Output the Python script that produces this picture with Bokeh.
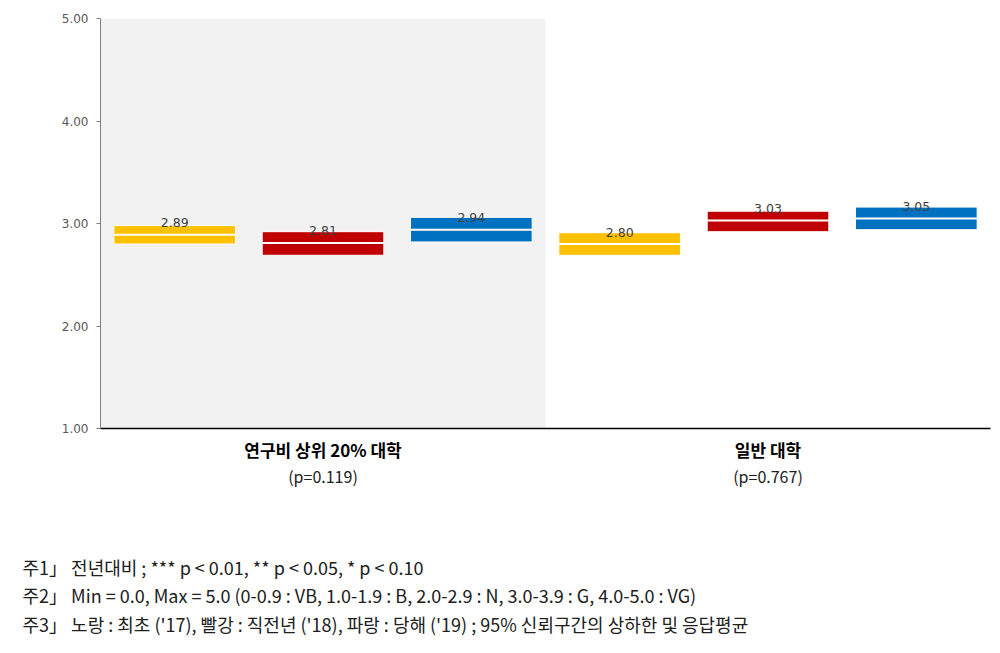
from bokeh.plotting import figure
from bokeh.models import Range1d, FixedTicker, NumeralTickFormatter, LinearAxis, Title, ColumnDataSource
from bokeh.embed import file_html
from bokeh.resources import INLINE
from bokeh.core.properties import value

groups = ["연구비 상위 20% 대학", "일반 대학"]
pvalues = ["(p=0.119)", "(p=0.767)"]
series = ["최초 ('17)", "직전년 ('18)", "당해 ('19)"]
colors = ["#FFC000", "#C00000", "#0070C0"]
means = [[2.89, 2.81, 2.94], [2.80, 3.03, 3.05]]
lower = [[2.80, 2.69, 2.82], [2.69, 2.92, 2.94]]
upper = [[2.98, 2.92, 3.06], [2.91, 3.12, 3.16]]
yticks = [1, 2, 3, 4, 5]
notes = [
    "주1」 전년대비 ; *** p < 0.01, ** p < 0.05, * p < 0.10",
    "주2」 Min = 0.0, Max = 5.0 (0-0.9 : VB, 1.0-1.9 : B, 2.0-2.9 : N, 3.0-3.9 : G, 4.0-5.0 : VG)",
    "주3」 노랑 : 최초 ('17), 빨강 : 직전년 ('18), 파랑 : 당해 ('19) ; 95% 신뢰구간의 상하한 및 응답평균",
]

nser = len(series)
xs, lo, hi, mu, col, lab = [], [], [], [], [], []
for gi in range(len(groups)):
    for si in range(nser):
        xs.append(gi * nser + si + 0.5)
        lo.append(lower[gi][si])
        hi.append(upper[gi][si])
        mu.append(means[gi][si])
        col.append(colors[si])
        lab.append(f"{means[gi][si]:.2f}")
bw = 0.41
src = ColumnDataSource(dict(x=xs, lo=lo, hi=hi, mu=mu, color=col, label=lab,
                            x0=[x - bw for x in xs], x1=[x + bw for x in xs]))

KR = "Noto Sans CJK KR"
p = figure(width=1000, height=653, output_backend="svg", toolbar_location=None,
           x_range=Range1d(0, len(groups) * nser), y_range=Range1d(yticks[0], yticks[-1]),
           min_border_left=100, min_border_right=10, min_border_top=18, min_border_bottom=225,
           x_axis_location=None)
p.outline_line_color = None
p.xgrid.visible = False
p.ygrid.visible = False
p.background_fill_color = "white"

# shaded first group
p.quad(left=[0], right=[nser], bottom=[yticks[0]], top=[yticks[-1]], fill_color="#F2F2F2", line_color=None)

p.vbar(x="x", width=2 * bw, bottom="lo", top="hi", fill_color="color", line_color="white", line_width=1, source=src)
p.segment(x0="x0", x1="x1", y0="mu", y1="mu", line_color="white", line_width=2, source=src)
p.text(x="x", y="mu", text="label", source=src, text_align="center", text_baseline="alphabetic",
       y_offset=-12, text_font=value("DejaVu Sans"), text_font_size="12.5px", text_color="#404040")

ya = p.yaxis[0]
ya.ticker = FixedTicker(ticks=yticks)
ya.formatter = NumeralTickFormatter(format="0.00")
ya.axis_line_color = "#808080"
ya.major_tick_line_color = "#808080"
ya.major_tick_out = 4
ya.major_tick_in = 0
ya.minor_tick_line_color = None
ya.major_label_text_font = "DejaVu Sans"
ya.major_label_text_font_size = "12px"
ya.major_label_text_color = "#595959"
ya.major_label_standoff = 8

centers = [gi * nser + nser / 2 for gi in range(len(groups))]
xa1 = LinearAxis(ticker=FixedTicker(ticks=centers),
                 major_label_overrides={c: g for c, g in zip(centers, groups)})
xa1.axis_line_color = "black"
xa1.axis_line_width = 1.5
xa1.major_tick_line_color = None
xa1.minor_tick_line_color = None
xa1.major_label_text_font = KR
xa1.major_label_text_font_style = "bold"
xa1.major_label_text_font_size = "17px"
xa1.major_label_text_color = "black"
xa1.major_label_standoff = 2
p.add_layout(xa1, "below")

xa2 = LinearAxis(ticker=FixedTicker(ticks=centers),
                 major_label_overrides={c: t for c, t in zip(centers, pvalues)})
xa2.axis_line_color = None
xa2.major_tick_line_color = None
xa2.minor_tick_line_color = None
xa2.major_label_text_font = KR
xa2.major_label_text_font_size = "16px"
xa2.major_label_text_color = "#202020"
xa2.major_label_standoff = -7
p.add_layout(xa2, "below")

p.add_layout(Title(text=" ", text_font_size="1px", standoff=58), "below")
for i, n in enumerate(notes):
    t = Title(text=n, align="left", offset=-78, text_font=KR, text_font_size="18px",
              text_font_style="normal", text_color="#202020", standoff=(0 if i == 0 else 1))
    p.add_layout(t, "below")

open("out.html", "w").write(file_html(p, INLINE))
